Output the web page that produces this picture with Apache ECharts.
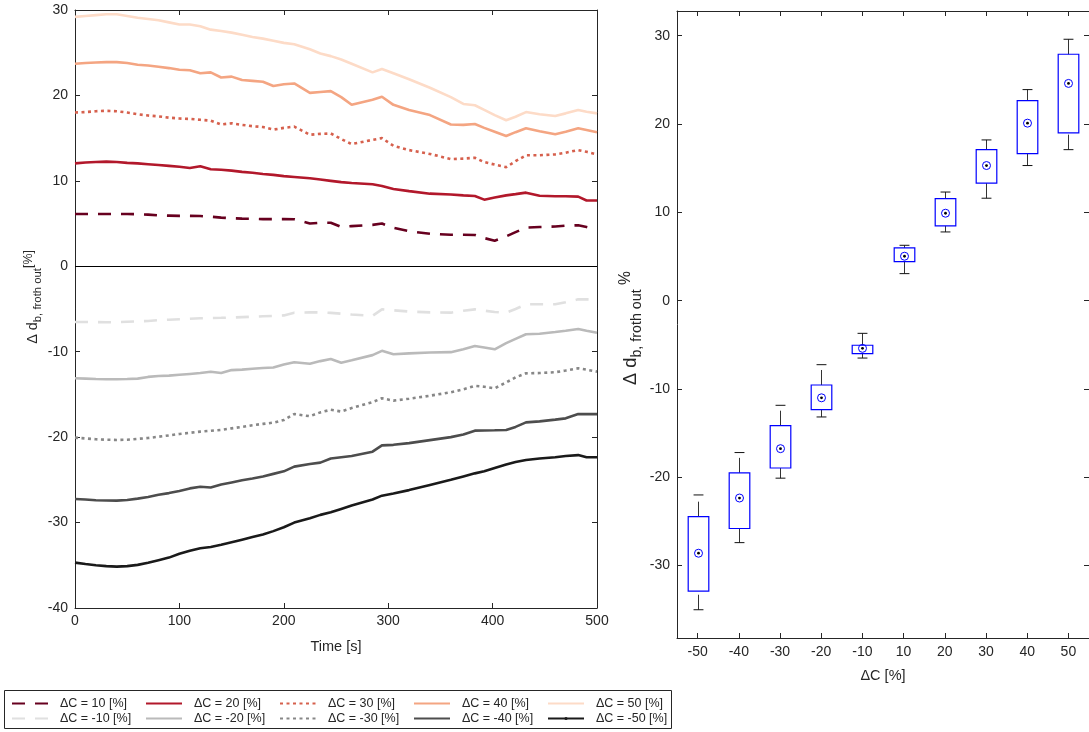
<!DOCTYPE html>
<html>
<head>
<meta charset="utf-8">
<script src="https://cdn.jsdelivr.net/npm/echarts@6/dist/echarts.min.js"></script>
<style>
  html, body { margin: 0; padding: 0; background: #fff; }
  #chart { width: 1089px; height: 732px; }
</style>
</head>
<body>
<div id="chart"></div>
<script>
// Sampling times [s] shared by all froth-out traces
const time = [0,10,20,30,40,50,60,70,80,90,100,110,120,130,140,150,160,170,180,190,200,210,
  225,235,245,255,265,285,294,305,320,340,360,372,383,392,402,413,422,432,445,460,470,482,490,500];

// Δ d_b, froth out [%] for each step change ΔC
const dC10 = [6.12,6.12,6.12,6.12,6.12,6.12,6.1,6.05,5.95,5.93,5.9,5.9,5.88,5.8,5.7,5.62,5.58,5.55,5.52,5.52,5.52,5.5,
  5.0,5.1,5.1,4.6,4.7,4.85,5.0,4.5,4.1,3.8,3.7,3.7,3.66,3.3,3.0,3.5,4.0,4.52,4.6,4.65,4.75,4.8,4.6,4.3];
const dC20 = [12.05,12.15,12.2,12.25,12.2,12.1,12.05,11.95,11.85,11.75,11.65,11.5,11.7,11.35,11.3,11.2,11.05,10.95,10.8,10.7,10.55,10.45,
  10.3,10.15,10.0,9.85,9.75,9.6,9.4,9.05,8.8,8.5,8.4,8.3,8.23,7.8,8.05,8.3,8.45,8.62,8.25,8.2,8.2,8.15,7.7,7.7];
const dC30 = [18.0,18.05,18.15,18.2,18.15,18.0,17.8,17.65,17.55,17.4,17.3,17.25,17.15,17.05,16.6,16.75,16.55,16.4,16.3,16.0,16.2,16.35,
  15.4,15.5,15.55,14.9,14.3,14.8,15.0,14.1,13.6,13.15,12.55,12.6,12.7,12.2,11.9,11.6,12.3,13.0,13.0,13.1,13.3,13.6,13.4,13.1];
const dC40 = [23.7,23.8,23.85,23.9,23.9,23.8,23.6,23.5,23.35,23.2,23.0,22.95,22.6,22.7,22.1,22.2,21.8,21.7,21.6,21.1,21.3,21.4,
  20.3,20.4,20.5,19.8,18.9,19.5,19.85,18.9,18.3,17.7,16.6,16.55,16.65,16.2,15.75,15.25,15.7,16.15,15.8,15.45,15.75,16.15,15.95,15.7];
const dC50 = [29.2,29.3,29.4,29.5,29.5,29.3,29.1,28.95,28.8,28.55,28.3,28.3,28.1,27.7,27.55,27.35,27.1,26.85,26.65,26.4,26.15,26.0,
  25.4,24.9,24.6,24.2,23.7,22.7,23.1,22.6,21.9,20.9,19.8,19.0,18.85,18.3,17.7,17.1,17.5,18.05,17.8,17.6,17.9,18.3,18.1,17.9];
const dCm10 = [-6.52,-6.52,-6.53,-6.55,-6.55,-6.5,-6.45,-6.4,-6.3,-6.25,-6.2,-6.15,-6.09,-6.05,-6.03,-6.0,-5.95,-5.9,-5.85,-5.82,-5.75,-5.43,
  -5.4,-5.4,-5.45,-5.55,-5.65,-5.8,-5.04,-5.15,-5.3,-5.4,-5.43,-5.2,-5.04,-5.2,-5.35,-5.43,-5.0,-4.45,-4.45,-4.45,-4.2,-3.87,-3.87,-3.87];
const dCm20 = [-13.1,-13.15,-13.2,-13.22,-13.23,-13.2,-13.15,-12.95,-12.85,-12.8,-12.7,-12.6,-12.5,-12.35,-12.5,-12.15,-12.1,-12.0,-11.9,-11.85,-11.5,-11.24,
  -11.4,-11.1,-10.85,-11.28,-11.0,-10.4,-9.9,-10.3,-10.2,-10.1,-10.05,-9.7,-9.33,-9.5,-9.72,-9.0,-8.5,-7.96,-7.9,-7.7,-7.55,-7.34,-7.55,-7.77];
const dCm30 = [-20.06,-20.15,-20.25,-20.3,-20.33,-20.3,-20.2,-20.1,-19.95,-19.8,-19.63,-19.5,-19.35,-19.25,-19.15,-18.97,-18.8,-18.6,-18.45,-18.3,-18.0,-17.3,
  -17.55,-17.1,-16.8,-17.0,-16.6,-15.9,-15.45,-15.73,-15.5,-15.15,-14.75,-14.4,-14.0,-14.1,-14.28,-13.6,-13.0,-12.53,-12.5,-12.4,-12.2,-11.94,-12.1,-12.33];
const dCm40 = [-27.24,-27.3,-27.38,-27.42,-27.43,-27.35,-27.2,-27.0,-26.75,-26.55,-26.3,-26.0,-25.8,-25.9,-25.55,-25.3,-25.05,-24.85,-24.6,-24.3,-24.0,-23.45,
  -23.15,-22.98,-22.5,-22.35,-22.2,-21.7,-20.96,-20.9,-20.7,-20.35,-20.0,-19.7,-19.24,-19.22,-19.2,-19.16,-18.8,-18.27,-18.15,-17.95,-17.8,-17.3,-17.3,-17.3];
const dCm50 = [-34.69,-34.85,-35.0,-35.1,-35.16,-35.1,-34.95,-34.7,-34.4,-34.1,-33.65,-33.3,-33.0,-32.85,-32.6,-32.3,-32.0,-31.7,-31.4,-31.0,-30.55,-30.0,
  -29.5,-29.1,-28.8,-28.4,-28.0,-27.3,-26.85,-26.6,-26.2,-25.6,-25.0,-24.6,-24.24,-24.0,-23.6,-23.2,-22.9,-22.67,-22.5,-22.35,-22.2,-22.1,-22.36,-22.36];

// Box-plot summary per ΔC category
const boxCats   = ['-50','-40','-30','-20','-10','10','20','30','40','50'];
const whiskLow  = [-35.0,-27.4,-20.1,-13.17,-6.5,3.06,7.78,11.6,15.3,17.1];
const quart1    = [-32.9,-25.8,-18.95,-12.34,-6.0,4.42,8.46,13.3,16.65,19.0];
const medians   = [-28.6,-22.35,-16.76,-11.0,-5.4,5.03,9.9,15.3,20.1,24.6];
const quart3    = [-24.46,-19.5,-14.16,-9.55,-5.05,5.97,11.55,17.1,22.65,27.9];
const whiskHigh = [-22.0,-17.2,-11.85,-7.25,-3.7,6.27,12.3,18.2,23.9,29.6];

const FONT = "'Liberation Sans', Arial, Helvetica, sans-serif";
const AX = '#262626';

const traces = [
  { name: 'ΔC = 10 [%]',  v: dC10,  color: '#67001f', type: [13, 10] },
  { name: 'ΔC = 20 [%]',  v: dC20,  color: '#b2182b', type: 'solid' },
  { name: 'ΔC = 30 [%]',  v: dC30,  color: '#d6604d', type: [3, 3.5] },
  { name: 'ΔC = 40 [%]',  v: dC40,  color: '#f4a582', type: 'solid' },
  { name: 'ΔC = 50 [%]',  v: dC50,  color: '#fddbc7', type: 'solid' },
  { name: 'ΔC = -10 [%]', v: dCm10, color: '#e0e0e0', type: [13, 10] },
  { name: 'ΔC = -20 [%]', v: dCm20, color: '#bababa', type: 'solid' },
  { name: 'ΔC = -30 [%]', v: dCm30, color: '#878787', type: [3, 3.5] },
  { name: 'ΔC = -40 [%]', v: dCm40, color: '#4d4d4d', type: 'solid' },
  { name: 'ΔC = -50 [%]', v: dCm50, color: '#1a1a1a', type: 'solid', dot: true }
];

const lineSeries = traces.map((tr, k) => ({
  name: tr.name,
  type: 'line',
  xAxisIndex: 0,
  yAxisIndex: 0,
  symbol: 'circle',
  showSymbol: false,
  animation: false,
  z: 3,
  data: time.map((t, i) => [t, tr.v[i]]),
  lineStyle: { color: tr.color, width: 2.6, type: tr.type },
  itemStyle: { color: tr.color },
  markLine: k === 0 ? {
    silent: true, symbol: 'none', label: { show: false },
    lineStyle: { color: '#000', width: 1, type: 'solid' },
    data: [{ yAxis: 0 }]
  } : undefined
}));

// Legend laid out as a 5 x 2 grid; only the ΔC = -50 entry carries a dot marker
const legendCols = [11, 145, 279, 413, 547];
const legendRows = [697, 712];
const legends = traces.map((tr, k) => ({
  data: [tr.name],
  left: legendCols[k % 5],
  top: legendRows[Math.floor(k / 5)],
  padding: 0,
  itemWidth: 36,
  itemHeight: tr.dot ? 4 : 14,
  itemStyle: { opacity: tr.dot ? 1 : 0 },
  selectedMode: false,
  formatter: '  {name}',
  textStyle: { fontSize: 12.5, color: AX, fontFamily: FONT }
}));

const boxSeries = {
  type: 'custom',
  xAxisIndex: 2,
  yAxisIndex: 2,
  animation: false,
  data: boxCats.map((c, i) => [i, whiskLow[i], quart1[i], medians[i], quart3[i], whiskHigh[i]]),
  encode: { x: 0, y: [1, 2, 3, 4, 5] },
  renderItem: function (params, api) {
    const i = api.value(0);
    const band = api.size([1, 0])[0];
    const boxW = band * 0.5, capW = band * 0.24;
    const pLo = api.coord([i, api.value(1)]);
    const pQ1 = api.coord([i, api.value(2)]);
    const pMd = api.coord([i, api.value(3)]);
    const pQ3 = api.coord([i, api.value(4)]);
    const pHi = api.coord([i, api.value(5)]);
    const x = Math.round(pMd[0]) + 0.5;
    const dash = { stroke: '#333', lineWidth: 1, lineDash: [15, 8] };
    return {
      type: 'group',
      children: [
        { type: 'line', shape: { x1: x, y1: pQ3[1], x2: x, y2: pHi[1] }, style: dash },
        { type: 'line', shape: { x1: x, y1: pLo[1], x2: x, y2: pQ1[1] }, style: dash },
        { type: 'line', shape: { x1: x - capW / 2, y1: pHi[1], x2: x + capW / 2, y2: pHi[1] }, style: { stroke: '#111', lineWidth: 1 } },
        { type: 'line', shape: { x1: x - capW / 2, y1: pLo[1], x2: x + capW / 2, y2: pLo[1] }, style: { stroke: '#111', lineWidth: 1 } },
        { type: 'rect', shape: { x: x - boxW / 2, y: pQ3[1], width: boxW, height: pQ1[1] - pQ3[1] },
          style: { stroke: '#0000ff', fill: 'none', lineWidth: 1.2 } },
        { type: 'circle', shape: { cx: x, cy: pMd[1], r: 4 }, style: { stroke: '#0000ff', fill: 'none', lineWidth: 1 } },
        { type: 'circle', shape: { cx: x, cy: pMd[1], r: 1.4 }, style: { fill: '#000' } }
      ]
    };
  }
};

const axisCommon = {
  axisLine: { show: true, onZero: false, lineStyle: { color: AX, width: 1 } },
  axisTick: { show: true, inside: true, length: 5, lineStyle: { color: AX } },
  splitLine: { show: false },
  axisLabel: { color: AX, fontSize: 14, fontFamily: FONT }
};

function ylabel(x, y, last, k) {
  return {
    type: 'text', x: x, y: y, rotation: Math.PI / 2,
    style: {
      text: '{m|Δ d}{s|b, froth out}{p|' + last + '}',
      align: 'center', verticalAlign: 'middle', fill: AX, fontFamily: FONT,
      rich: {
        m: { fontSize: 14 * k, lineHeight: 20 * k, fontFamily: FONT, fill: AX },
        s: { fontSize: 11 * k, lineHeight: 12 * k, verticalAlign: 'bottom', fontFamily: FONT, fill: AX },
        p: { fontSize: 12 * k, lineHeight: 12 * k, verticalAlign: 'top', fontFamily: FONT, fill: AX }
      }
    }
  };
}

const option = {
  backgroundColor: '#fff',
  animation: false,
  textStyle: { fontFamily: FONT },
  grid: [
    { left: 75, top: 10, width: 522, height: 598 },
    { left: 677, top: 11, width: 415, height: 627 }
  ],
  xAxis: [
    Object.assign({}, axisCommon, { type: 'value', gridIndex: 0, min: 0, max: 500, interval: 100,
      axisLabel: Object.assign({}, axisCommon.axisLabel, { margin: 6 }) }),
    Object.assign({}, axisCommon, { type: 'value', gridIndex: 0, position: 'top', min: 0, max: 500, interval: 100,
      axisLabel: { show: false } }),
    Object.assign({}, axisCommon, { type: 'category', gridIndex: 1, data: boxCats, boundaryGap: true,
      axisTick: Object.assign({}, axisCommon.axisTick, { alignWithLabel: true }),
      axisLabel: Object.assign({}, axisCommon.axisLabel, { margin: 7 }) }),
    Object.assign({}, axisCommon, { type: 'category', gridIndex: 1, position: 'top', data: boxCats, boundaryGap: true,
      axisTick: Object.assign({}, axisCommon.axisTick, { alignWithLabel: true }),
      axisLabel: { show: false } })
  ],
  yAxis: [
    Object.assign({}, axisCommon, { type: 'value', gridIndex: 0, min: -40, max: 30, interval: 10,
      axisLabel: Object.assign({}, axisCommon.axisLabel, { margin: 7 }) }),
    Object.assign({}, axisCommon, { type: 'value', gridIndex: 0, position: 'right', min: -40, max: 30, interval: 10,
      axisLabel: { show: false } }),
    Object.assign({}, axisCommon, { type: 'value', gridIndex: 1, min: -38.2, max: 32.8, splitNumber: 7,
      axisLabel: Object.assign({}, axisCommon.axisLabel, { margin: 7, showMinLabel: false, showMaxLabel: false }) }),
    Object.assign({}, axisCommon, { type: 'value', gridIndex: 1, position: 'right', min: -38.2, max: 32.8, splitNumber: 7,
      axisLabel: { show: false } })
  ],
  legend: legends,
  graphic: [
    { type: 'rect', z: 0, shape: { x: 4.5, y: 690.5, width: 667, height: 38 },
      style: { fill: '#fff', stroke: AX, lineWidth: 1 } },
    { type: 'text', x: 336, y: 647, style: { text: 'Time [s]', align: 'center', verticalAlign: 'middle',
      fontSize: 14.5, fill: AX, fontFamily: FONT } },
    { type: 'text', x: 883, y: 676, style: { text: 'ΔC [%]', align: 'center', verticalAlign: 'middle',
      fontSize: 14.5, fill: AX, fontFamily: FONT } },
    ylabel(33, 297, '[%]', 1.03),
    ylabel(631, 328, ' %', 1.3)
  ],
  series: lineSeries.concat([boxSeries])
};

const chart = echarts.init(document.getElementById('chart'), null, { renderer: 'canvas' });
chart.setOption(option);
</script>
</body>
</html>
